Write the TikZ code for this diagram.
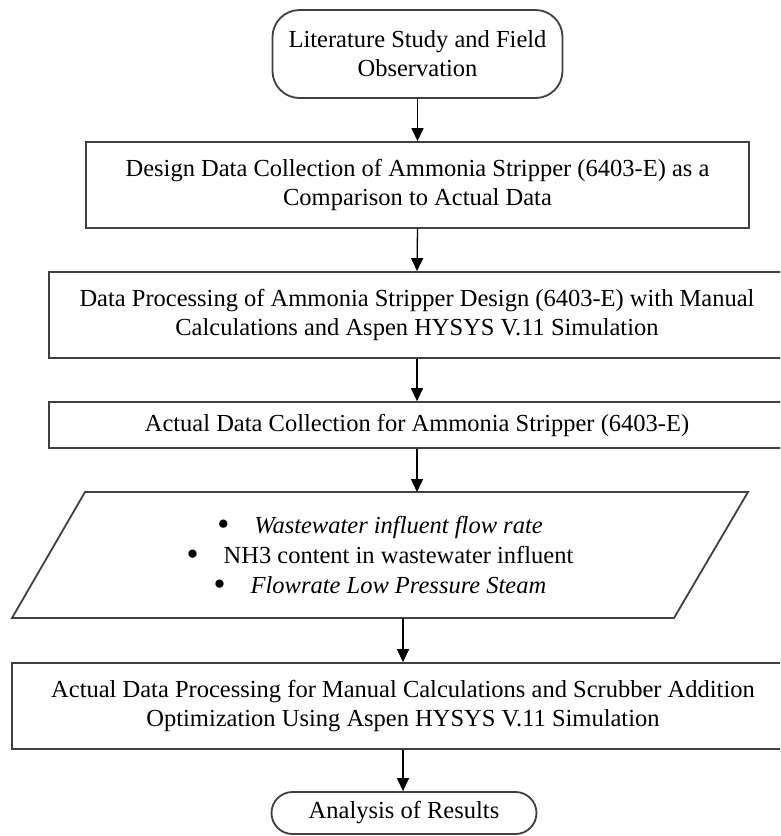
\documentclass[tikz,border=0pt]{standalone}
\usepackage{fontspec}
\setmainfont{Liberation Serif}
\usetikzlibrary{arrows.meta}
\newcommand{\bigbul}{\raisebox{-1.8pt}{\scalebox{1.4}{\textbullet}}\hspace{25pt}}
\begin{document}
\begin{tikzpicture}[x=1pt,y=-1pt,
  txt/.style={font=\fontsize{24.5}{29}\selectfont, align=center, inner sep=0pt},
  box/.style={txt, draw=black!75, line width=1.8pt, fill=white},
  arr/.style={line width=1.3pt, -{Triangle[width=12pt,length=13pt]}}]
\useasboundingbox (0,0) rectangle (780,836);
\clip (0,0) rectangle (780,836);
\fill[white] (0,0) rectangle (780,836);
\node[box, rounded corners=27pt, minimum width=290pt, minimum height=88pt] (b1) at (417.5,54) {Literature Study and Field\\Observation};
\node[box, minimum width=663pt, minimum height=86pt] (b2) at (417.5,185) {Design Data Collection of Ammonia Stripper (6403-E) as a\\Comparison to Actual Data};
\node[box, minimum width=736pt, minimum height=86pt] (b3) at (417,315) {Data Processing of Ammonia Stripper Design (6403-E) with Manual\\Calculations and Aspen HYSYS V.11 Simulation};
\node[box, minimum width=736pt, minimum height=46pt] (b4) at (417,425) {Actual Data Collection for Ammonia Stripper (6403-E)};
\coordinate (pTL) at (85,492);
\coordinate (pTR) at (748,492);
\coordinate (pBR) at (674,618);
\coordinate (pBL) at (12,618);
\coordinate (pTop) at (417,492);
\coordinate (pBot) at (403,618);
\draw[draw=black!75, line width=1.8pt, fill=white, line join=miter] (pTL) -- (pTR) -- (pBR) -- (pBL) -- cycle;
\node[txt, font=\fontsize{24.5}{30}\selectfont] (data) at (380,556) {\bigbul\textit{Wastewater influent flow rate}\\\bigbul NH3 content in wastewater influent\\\bigbul\textit{Flowrate Low Pressure Steam}};
\node[box, minimum width=782pt, minimum height=86pt] (b6) at (403,706) {Actual Data Processing for Manual Calculations and Scrubber Addition\\Optimization Using Aspen HYSYS V.11 Simulation};
\node[box, rounded corners=21pt, minimum width=265pt, minimum height=42pt] (b7) at (404,813) {Analysis of Results};
\draw[arr] (b1.south) -- (b1.south |- b2.north);
\draw[arr] (b2.south) -- (b3.north);
\draw[arr] (b3.south) -- (b4.north);
\draw[arr] (b4.south) -- (pTop);
\draw[arr] (pBot) -- (b6.north);
\draw[arr] (b6.south) -- (b6.south |- b7.north);
\end{tikzpicture}
\end{document}
